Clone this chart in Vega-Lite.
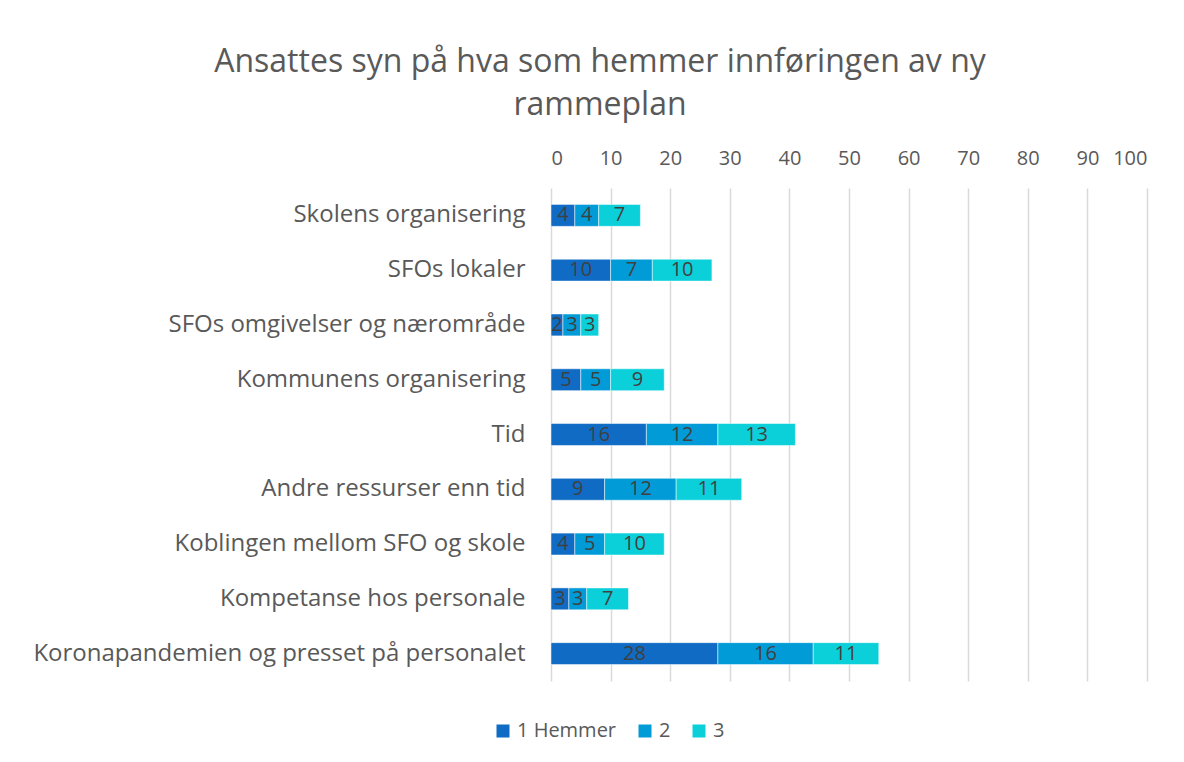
{
  "$schema": "https://vega.github.io/schema/vega-lite/v6.json",
  "width": 596,
  "height": 493,
  "autosize": "none",
  "padding": {"left": 551, "top": 188, "right": 37, "bottom": 81},
  "background": "white",
  "config": {"view": {"stroke": null}},
  "title": {
    "text": ["Ansattes syn på hva som hemmer innføringen av ny", "rammeplan"],
    "font": "Open Sans",
    "fontSize": 32,
    "fontWeight": "normal",
    "color": "#595959",
    "anchor": "middle",
    "dx": -249,
    "dy": 4,
    "offset": 30,
    "lineHeight": 43
  },
  "data": {
    "values": [
      {"kategori": "Skolens organisering", "nivå": "1 Hemmer", "ord": 1, "antall": 4},
      {"kategori": "Skolens organisering", "nivå": "2", "ord": 2, "antall": 4},
      {"kategori": "Skolens organisering", "nivå": "3", "ord": 3, "antall": 7},
      {"kategori": "SFOs lokaler", "nivå": "1 Hemmer", "ord": 1, "antall": 10},
      {"kategori": "SFOs lokaler", "nivå": "2", "ord": 2, "antall": 7},
      {"kategori": "SFOs lokaler", "nivå": "3", "ord": 3, "antall": 10},
      {"kategori": "SFOs omgivelser og nærområde", "nivå": "1 Hemmer", "ord": 1, "antall": 2},
      {"kategori": "SFOs omgivelser og nærområde", "nivå": "2", "ord": 2, "antall": 3},
      {"kategori": "SFOs omgivelser og nærområde", "nivå": "3", "ord": 3, "antall": 3},
      {"kategori": "Kommunens organisering", "nivå": "1 Hemmer", "ord": 1, "antall": 5},
      {"kategori": "Kommunens organisering", "nivå": "2", "ord": 2, "antall": 5},
      {"kategori": "Kommunens organisering", "nivå": "3", "ord": 3, "antall": 9},
      {"kategori": "Tid", "nivå": "1 Hemmer", "ord": 1, "antall": 16},
      {"kategori": "Tid", "nivå": "2", "ord": 2, "antall": 12},
      {"kategori": "Tid", "nivå": "3", "ord": 3, "antall": 13},
      {"kategori": "Andre ressurser enn tid", "nivå": "1 Hemmer", "ord": 1, "antall": 9},
      {"kategori": "Andre ressurser enn tid", "nivå": "2", "ord": 2, "antall": 12},
      {"kategori": "Andre ressurser enn tid", "nivå": "3", "ord": 3, "antall": 11},
      {"kategori": "Koblingen mellom SFO og skole", "nivå": "1 Hemmer", "ord": 1, "antall": 4},
      {"kategori": "Koblingen mellom SFO og skole", "nivå": "2", "ord": 2, "antall": 5},
      {"kategori": "Koblingen mellom SFO og skole", "nivå": "3", "ord": 3, "antall": 10},
      {"kategori": "Kompetanse hos personale", "nivå": "1 Hemmer", "ord": 1, "antall": 3},
      {"kategori": "Kompetanse hos personale", "nivå": "2", "ord": 2, "antall": 3},
      {"kategori": "Kompetanse hos personale", "nivå": "3", "ord": 3, "antall": 7},
      {"kategori": "Koronapandemien og presset på personalet", "nivå": "1 Hemmer", "ord": 1, "antall": 28},
      {"kategori": "Koronapandemien og presset på personalet", "nivå": "2", "ord": 2, "antall": 16},
      {"kategori": "Koronapandemien og presset på personalet", "nivå": "3", "ord": 3, "antall": 11}
    ]
  },
  "transform": [
    {"stack": "antall", "groupby": ["kategori"], "sort": [{"field": "ord", "order": "ascending"}], "as": ["start", "slutt"]},
    {"calculate": "(datum.start + datum.slutt) / 2", "as": "midt"}
  ],
  "encoding": {
    "y": {
      "field": "kategori",
      "type": "nominal",
      "sort": null,
      "scale": {"paddingInner": 0.6, "paddingOuter": 0.3},
      "axis": {
        "title": null,
        "domain": false,
        "ticks": false,
        "labelFont": "Open Sans",
        "labelFontSize": 24,
        "labelColor": "#595959",
        "labelPadding": 26,
        "labelLimit": 600
      }
    }
  },
  "layer": [
    {
      "mark": {"type": "bar", "stroke": "white", "strokeWidth": 0.5},
      "encoding": {
        "x": {
          "field": "start",
          "type": "quantitative",
          "scale": {"domain": [0, 100]},
          "axis": {
            "orient": "top",
            "title": null,
            "values": [0, 10, 20, 30, 40, 50, 60, 70, 80, 90, 100],
            "domain": false,
            "ticks": false,
            "grid": true,
            "gridColor": "#d9d9d9",
            "gridWidth": 1.5,
            "labelFont": "Open Sans",
            "labelFontSize": 20,
            "labelColor": "#595959",
            "labelPadding": 20
          }
        },
        "x2": {"field": "slutt"},
        "color": {
          "field": "nivå",
          "type": "nominal",
          "scale": {"domain": ["1 Hemmer", "2", "3"], "range": ["#0F6BC4", "#019BD7", "#0BD0D9"]},
          "legend": {
            "title": null,
            "orient": "none",
            "legendX": -58,
            "legendY": 533,
            "direction": "horizontal",
            "symbolType": "square",
            "symbolSize": 169,
            "symbolStrokeWidth": 0,
            "labelFont": "Open Sans",
            "labelFontSize": 20,
            "labelColor": "#595959",
            "columnPadding": 18,
            "labelOffset": 4
          }
        }
      }
    },
    {
      "mark": {"type": "text", "font": "Open Sans", "fontSize": 20, "color": "#404040"},
      "encoding": {
        "x": {"field": "midt", "type": "quantitative"},
        "text": {"field": "antall", "type": "quantitative"}
      }
    }
  ]
}
